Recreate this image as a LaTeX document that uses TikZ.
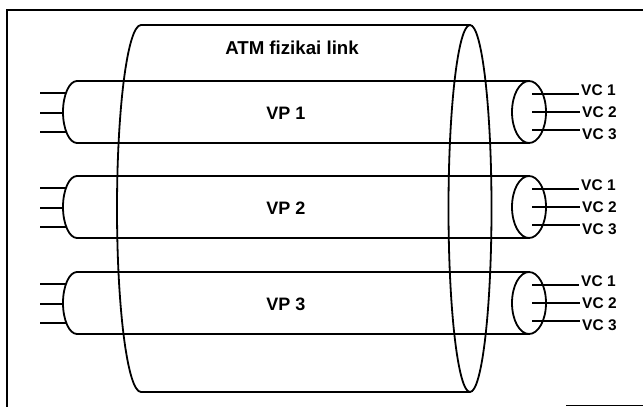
\documentclass[tikz,border=0pt]{standalone}
\usepackage{fontspec}
\setmainfont{Liberation Sans}
\begin{document}
\begin{tikzpicture}[x=0.75pt,y=0.75pt,line width=1.35pt,
  frameline/.style={line width=1.1pt},
  titletext/.style={font=\bfseries\fontsize{14}{16}\selectfont,inner sep=1pt},
  vptext/.style={font=\bfseries\fontsize{13.5}{15}\selectfont,inner sep=1pt},
  vctext/.style={font=\bfseries\fontsize{11.6}{13}\selectfont,anchor=west,inner sep=1pt}]
\useasboundingbox (0,0) rectangle (643,-407);
% frame
\coordinate (ftr) at (643,-10);
\coordinate (ftl) at (7,-10);
\coordinate (fbl) at (7,-407);
\draw[frameline] (ftr) -- (ftl) -- (fbl);
\coordinate (fbr1) at (566,-405.5);
\coordinate (fbr2) at (643,-405.5);
\draw[frameline] (fbr1) -- (fbr2);
% big cylinder
\draw (470,-25) -- (141,-25) arc[start angle=90,end angle=270,x radius=24,y radius=183.5] -- (470,-392);
\draw (470,-208.5) ellipse[x radius=21.5,y radius=183.5];
\node[titletext] (title) at (292,-48) {ATM fizikai link};
% VP tubes
\foreach \i/\cy in {1/-112,2/-207,3/-303}{
  \draw (529,{\cy+31}) -- (77,{\cy+31}) arc[start angle=90,end angle=270,x radius=14,y radius=31] -- (529,{\cy-31});
  \draw (529,\cy) ellipse[x radius=17,y radius=31];
  \node[vptext] (vp\i) at (286,{\cy-1}) {VP \i};
  % left stubs
  \coordinate (la\i) at (40,{\cy+19});
  \coordinate (lb\i) at (40,{\cy-1});
  \coordinate (lc\i) at (40,{\cy-20});
  \coordinate (ea\i) at (65.9,{\cy+19});
  \coordinate (eb\i) at (63.1,{\cy-1});
  \coordinate (ec\i) at (66.3,{\cy-20});
  \draw (la\i) -- (ea\i);
  \draw (lb\i) -- (eb\i);
  \draw (lc\i) -- (ec\i);
  % right stubs and labels
  \node[vctext] (vca\i) at (579,{\cy+22}) {VC 1};
  \node[vctext] (vcb\i) at (580,{\cy}) {VC 2};
  \node[vctext] (vcc\i) at (580,{\cy-22}) {VC 3};
  \coordinate (ra\i) at (532,{\cy+18});
  \coordinate (rb\i) at (532,{\cy});
  \coordinate (rc\i) at (532,{\cy-18});
  \draw (ra\i) -- (ra\i -| vca\i.west);
  \draw (rb\i) -- (rb\i -| vcb\i.west);
  \draw (rc\i) -- (rc\i -| vcc\i.west);
}
\end{tikzpicture}
\end{document}
